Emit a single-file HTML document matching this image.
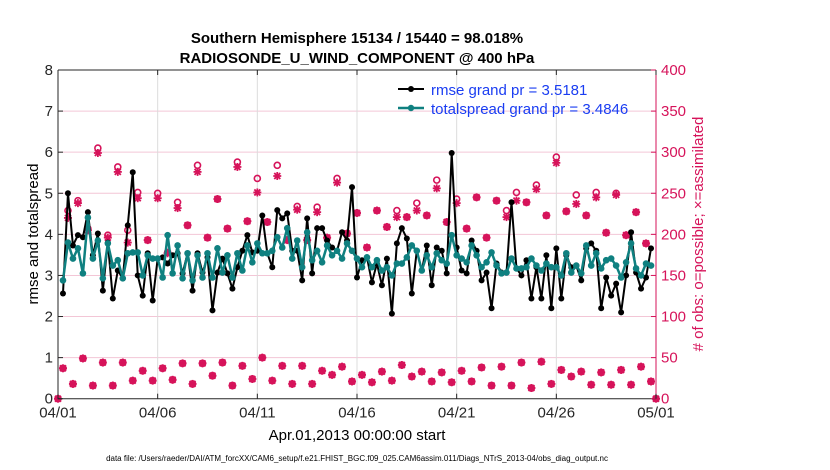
<!DOCTYPE html>
<html><head><meta charset="utf-8">
<style>
body{margin:0;background:#fff;}
svg{display:block;font-family:"Liberation Sans",Arial,sans-serif;}
</style></head>
<body>
<svg id="chart" width="830" height="470" viewBox="0 0 830 470" xmlns="http://www.w3.org/2000/svg">
<g id="grid"></g>
<g id="series"></g>
<g id="axes"></g>
<text x="357" y="43" font-size="15" font-weight="bold" text-anchor="middle">Southern Hemisphere 15134 / 15440 = 98.018%</text>
<text x="357" y="63" font-size="15" font-weight="bold" text-anchor="middle">RADIOSONDE_U_WIND_COMPONENT @ 400 hPa</text>
<text transform="translate(38,234) rotate(-90)" font-size="15" text-anchor="middle">rmse and totalspread</text>
<text transform="translate(703,234) rotate(-90)" font-size="15" text-anchor="middle" fill="#d6135a"># of obs: o=possible; ×=assimilated</text>
<text x="357" y="440" font-size="15" text-anchor="middle">Apr.01,2013 00:00:00 start</text>
<text x="357" y="461" font-size="8" text-anchor="middle">data file: /Users/raeder/DAI/ATM_forcXX/CAM6_setup/f.e21.FHIST_BGC.f09_025.CAM6assim.011/Diags_NTrS_2013-04/obs_diag_output.nc</text>
<g>
  <g>
    <line x1="398" y1="89" x2="424" y2="89" stroke="#000" stroke-width="2"/>
    <circle cx="411" cy="89" r="3" fill="#000"/>
    <text x="431" y="95" font-size="15" fill="#1a3df2">rmse grand pr = 3.5181</text>
  </g>
  <g>
    <line x1="398" y1="108" x2="424" y2="108" stroke="#0f8080" stroke-width="2.5"/>
    <circle cx="411" cy="108" r="3.2" fill="#0f8080"/>
    <text x="431" y="114" font-size="15" fill="#1a3df2">totalspread grand pr = 3.4846</text>
  </g>
</g>
</svg>
<script>
// ---- data ----
const rmse = [2.56,5.0,3.73,3.98,3.93,4.54,3.49,4.02,2.63,3.8,2.44,3.12,2.93,4.22,5.51,3.0,2.51,3.54,2.39,3.41,3.44,3.29,3.49,3.54,3.05,3.54,2.63,3.54,3.07,3.44,2.15,3.07,3.41,3.05,2.68,3.2,3.6,3.98,3.56,3.6,4.46,
3.54,3.2,4.59,4.39,4.51,3.6,3.6,2.88,4.39,3.05,4.15,4.15,3.85,3.68,3.6,4.05,3.85,5.15,2.95,3.37,3.44,2.83,3.29,2.76,3.41,2.07,3.78,4.15,3.9,2.56,3.6,3.12,3.73,2.76,3.68,3.6,3.05,5.98,3.68,3.12,
3.05,3.85,3.6,2.88,3.07,2.2,3.29,3.07,3.07,4.78,3.17,3.0,3.37,2.44,3.2,2.44,3.49,2.2,3.66,2.44,3.49,3.2,3.24,2.88,3.66,3.78,3.6,2.2,2.95,2.51,2.8,2.1,3.0,4.05,3.07,2.68,2.95,3.66];
const spread = [2.88,3.8,3.41,3.66,3.05,4.41,3.41,3.85,2.93,3.78,3.24,3.37,2.93,3.54,3.56,3.56,3.0,3.49,3.41,3.41,2.95,3.98,3.05,3.73,2.93,3.54,2.88,3.49,2.95,3.54,2.95,3.66,3.07,3.49,2.95,3.54,3.12,3.73,3.32,3.78,3.54,
3.54,3.6,3.93,3.68,4.15,3.41,3.85,3.2,4.05,3.37,3.6,3.32,3.73,3.49,3.6,3.41,3.78,3.6,3.41,3.2,3.44,3.2,3.37,3.12,3.2,3.0,3.29,3.29,3.44,3.73,3.6,3.12,3.49,3.2,3.54,3.37,3.29,3.98,3.49,3.41,
3.32,3.73,3.49,3.2,3.32,3.56,3.24,3.05,3.07,3.41,3.17,3.17,3.2,3.41,3.24,3.12,3.29,3.2,3.2,3.0,3.54,3.07,3.24,3.05,3.73,3.24,3.54,3.17,3.37,3.41,3.24,2.95,3.32,3.78,3.17,3.0,3.29,3.24];
// obs counts at 00Z/12Z-type (odd index) and 06Z/18Z-type (even index) times
const possibleUpper = [229,241,207,305,199,282,205,251,193,250,178,239,211,284,196,243,207,288,216,268,215,284,193,234,193,233,196,268,201,226,184,229,209,229,221,238,223,266,215,243,207,245,196,241,229,251,239,260,223,294,228,248,223,251,202,250,199,227,189];
const assimUpper = [220,238,205,299,196,276,190,244,193,244,177,232,211,276,196,243,207,282,216,251,215,271,193,230,193,227,196,263,201,226,184,229,209,221,221,229,223,256,215,238,207,245,196,241,221,241,239,255,223,287,228,237,223,245,202,248,199,227,189];
const obsLower = [37,18,49,16,44,16,44,22,34,22,37,23,43,18,43,28,44,16,40,24,50,22,40,18,40,18,34,29,39,21,29,20,33,22,41,27,33,21,32,20,34,21,38,16,39,16,44,13,45,18,35,27,33,17,32,17,35,17,39,21];
const xTickLabels = ["04/01","04/06","04/11","04/16","04/21","04/26","05/01"];
const yTickLabels = ["0","1","2","3","4","5","6","7","8"];
const y2TickLabels = ["0","50","100","150","200","250","300","350","400"];

// ---- scales ----
const X0=58, X1=656, Y0=398.7, Y1=70;
const xs = d => X0 + (d/30)*(X1-X0);
const ys = v => Y0 - (v/8)*(Y0-Y1);
const y2s = v => Y0 - (v/400)*(Y0-Y1);
const NS="http://www.w3.org/2000/svg";
function mk(tag, attrs, parent){const e=document.createElementNS(NS,tag);for(const k in attrs)e.setAttribute(k,attrs[k]);parent.appendChild(e);return e;}
const grid=document.getElementById('grid'), series=document.getElementById('series'), axes=document.getElementById('axes');
const RED="#d6135a";

// grid
y2TickLabels.forEach((t,i)=>{ if(i===0||i===8) return; const y=y2s(+t);
  const l=mk('line',{x1:X0,x2:X1,y1:y,y2:y,stroke:"#f3c6d6","stroke-width":1},grid);
  
  
});
xTickLabels.forEach((t,i)=>{ if(i===0||i===6) return; const x=xs(i*5);
  const l=mk('line',{x1:x,x2:x,y1:Y1,y2:Y0,stroke:"#dcdcdc","stroke-width":1},grid);
  
  
});

// obs markers
function star(x,y,parent){
  const g=mk('g',{stroke:RED,"stroke-width":1.8,fill:"none"},parent);
  mk('line',{x1:x-4,y1:y,x2:x+4,y2:y},g);
  mk('line',{x1:x,y1:y-4,x2:x,y2:y+4},g);
  mk('line',{x1:x-3,y1:y-3,x2:x+3,y2:y+3},g);
  mk('line',{x1:x-3,y1:y+3,x2:x+3,y2:y-3},g);
  return g;
}
const obsG=mk('g',{},series);


[0,30].forEach(d=>{
  const c=mk('circle',{cx:xs(d),cy:y2s(0),r:3,fill:"none",stroke:RED,"stroke-width":1.6},obsG);
  
  
  const s=star(xs(d),y2s(0),obsG);
  
  
});
obsLower.forEach((v,k)=>{
  const d=(2*k+1)*0.25;
  const c=mk('circle',{cx:xs(d),cy:y2s(v),r:3,fill:"none",stroke:RED,"stroke-width":1.6},obsG);
  
  
  const s=star(xs(d),y2s(v),obsG);
  
  
});
possibleUpper.forEach((v,k)=>{
  const d=(2*k+2)*0.25;
  const c=mk('circle',{cx:xs(d),cy:y2s(v),r:3,fill:"none",stroke:RED,"stroke-width":1.6},obsG);
  
  
  const s=star(xs(d),y2s(assimUpper[k]),obsG);
  
  
});

// lines
function drawSeries(vals,color,lw,r,name){
  const pts=vals.map((v,i)=>[xs((i+1)*0.25),ys(v)]);
  const p=mk('polyline',{points:pts.map(q=>q.join(',')).join(' '),fill:"none",stroke:color,"stroke-width":lw,"stroke-linejoin":"round"},series);
  
  
  pts.forEach(q=>{
    const c=mk('circle',{cx:q[0],cy:q[1],r:r,fill:color},series);
    
    
  });
}
drawSeries(rmse,"#000",2,3,'rmse');
drawSeries(spread,"#0f8080",2.5,3.3,'totalspread');

// axes
const la=mk('path',{d:`M${X0},${Y1}V${Y0}H${X1}`,stroke:"#262626",fill:"none","stroke-width":1},axes);


const ta=mk('line',{x1:X0,x2:X1,y1:Y1,y2:Y1,stroke:"#262626","stroke-width":1},axes);


const ra=mk('line',{x1:X1,x2:X1,y1:Y1,y2:Y0,stroke:RED,"stroke-width":1},axes);


yTickLabels.forEach(t=>{ const y=ys(+t);
  mk('line',{x1:X0,x2:X0+5,y1:y,y2:y,stroke:"#262626"},axes);
  const tx=mk('text',{x:X0-5,y:y+5,"font-size":15,"text-anchor":"end",fill:"#262626"},axes);
  tx.textContent=t;
  
  
});
y2TickLabels.forEach(t=>{ const y=y2s(+t);
  mk('line',{x1:X1-5,x2:X1,y1:y,y2:y,stroke:RED},axes);
  const tx=mk('text',{x:X1+5,y:y+5,"font-size":15,fill:RED},axes);
  tx.textContent=t;
  
  
});
xTickLabels.forEach((t,i)=>{ const x=xs(i*5);
  mk('line',{x1:x,x2:x,y1:Y0,y2:Y0-5,stroke:"#262626"},axes);
  mk('line',{x1:x,x2:x,y1:Y1,y2:Y1+5,stroke:"#262626"},axes);
  const tx=mk('text',{x:x,y:Y0+19,"font-size":15,"text-anchor":"middle",fill:"#262626"},axes);
  tx.textContent=t;
  
  
});
</script>
</body></html>
